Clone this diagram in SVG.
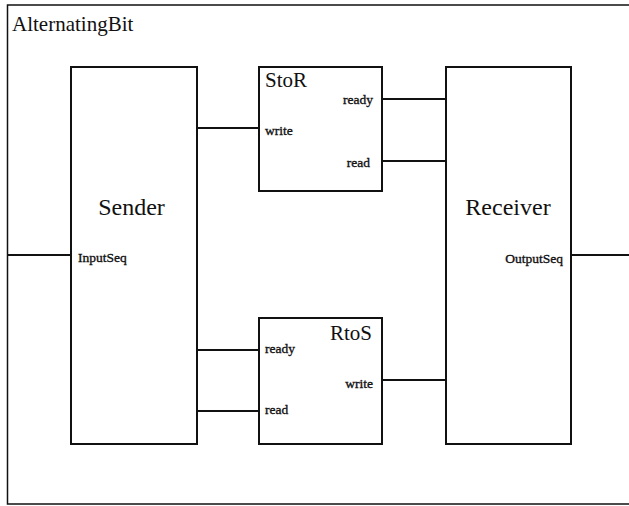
<svg xmlns="http://www.w3.org/2000/svg" width="629" height="506" viewBox="0 0 629 506">
<style>
.frame{fill:none;stroke:#111;stroke-width:1.5}
.box{fill:#fff;stroke:#111;stroke-width:2}
.conn{stroke:#111;stroke-width:2;fill:none}
.big{font-family:"Liberation Serif","Times New Roman",serif;font-size:24px;fill:#111}
.title{font-family:"Liberation Serif","Times New Roman",serif;font-size:21px;fill:#111}
.port{font-family:"Liberation Serif","Times New Roman",serif;font-size:13.5px;fill:#111;stroke:#111;stroke-width:0.35}
</style>
<rect width="629" height="506" fill="#fff"/>
<g id="AlternatingBit">
<path class="frame" d="M629,5 H7.5 V504 H629"/>
<text class="title" x="12" y="31">AlternatingBit</text>
</g>
<g id="connectors">
<line class="conn" x1="7" y1="255" x2="71" y2="255"/>
<line class="conn" x1="571" y1="255" x2="629" y2="255"/>
<line class="conn" x1="197" y1="128" x2="259" y2="128"/>
<line class="conn" x1="382" y1="99" x2="446" y2="99"/>
<line class="conn" x1="382" y1="161" x2="446" y2="161"/>
<line class="conn" x1="197" y1="350" x2="259" y2="350"/>
<line class="conn" x1="197" y1="411" x2="259" y2="411"/>
<line class="conn" x1="382" y1="380" x2="446" y2="380"/>
</g>
<g id="Sender">
<rect class="box" x="71" y="67" width="126" height="377"/>
<text class="big" x="131.5" y="215" text-anchor="middle">Sender</text>
<text class="port" x="78" y="262">InputSeq</text>
</g>
<g id="StoR">
<rect class="box" x="259" y="67" width="123" height="124"/>
<text class="title" x="265" y="87">StoR</text>
<text class="port" x="373" y="104" text-anchor="end">ready</text>
<text class="port" x="265" y="135">write</text>
<text class="port" x="370" y="167" text-anchor="end">read</text>
</g>
<g id="RtoS">
<rect class="box" x="259" y="318" width="123" height="126"/>
<text class="title" x="372" y="340" text-anchor="end">RtoS</text>
<text class="port" x="265" y="353">ready</text>
<text class="port" x="265" y="414">read</text>
<text class="port" x="373" y="388" text-anchor="end">write</text>
</g>
<g id="Receiver">
<rect class="box" x="446" y="67" width="125" height="377"/>
<text class="big" x="508" y="215" text-anchor="middle">Receiver</text>
<text class="port" x="563" y="263" text-anchor="end">OutputSeq</text>
</g>
</svg>
